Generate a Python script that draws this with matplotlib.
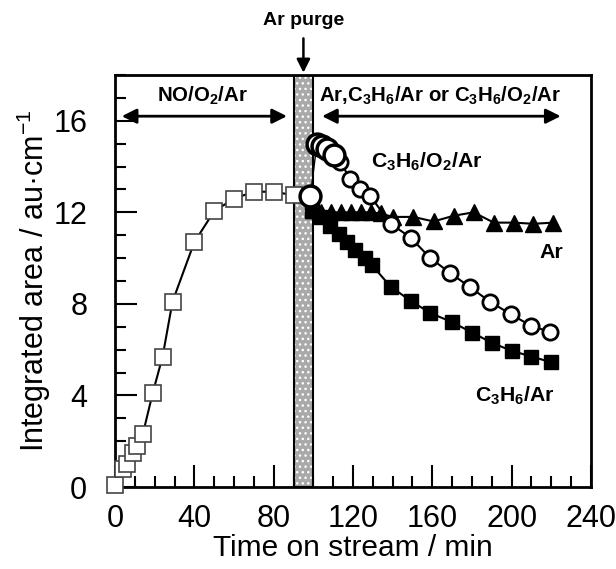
import matplotlib
matplotlib.use("Agg")
import matplotlib.pyplot as plt
from matplotlib.ticker import MultipleLocator

plt.rcParams['font.family'] = ['Liberation Sans', 'DejaVu Sans']
plt.rcParams['mathtext.fontset'] = 'custom'
plt.rcParams['mathtext.rm'] = 'Liberation Sans'
plt.rcParams['mathtext.bf'] = 'Liberation Sans:bold'
plt.rcParams['mathtext.default'] = 'regular'

# NO/O2/Ar adsorption (open squares)
t_ads = [0, 4, 6, 9, 11, 14, 19, 24, 29, 40, 50, 60, 70, 80, 90]
y_ads = [0.1, 0.8, 1.0, 1.5, 1.8, 2.3, 4.1, 5.7, 8.1, 10.7, 12.05, 12.6, 12.9, 12.9, 12.75]

# C3H6/O2/Ar (open circles), first ones drawn larger
t_o2_big = [98.5, 101.8, 104.4, 106.9, 110.2]
y_o2_big = [12.7, 15.0, 14.9, 14.75, 14.5]
t_o2 = [113.6, 118.7, 123.7, 128.8, 139, 149, 159, 169, 179, 189, 199.5, 209.6, 219.5]
y_o2 = [14.2, 13.45, 13.0, 12.7, 11.5, 10.9, 10.0, 9.35, 8.73, 8.1, 7.55, 7.05, 6.77]

# Ar (filled triangles)
t_ar = [100, 104, 109, 114, 119, 124, 129, 134, 140, 150.5, 160.6, 170.7, 180.8, 191, 201, 211, 221]
y_ar = [12.1, 12.0, 12.0, 12.0, 12.0, 12.0, 12.0, 11.95, 11.8, 11.8, 11.6, 11.85, 12.0, 11.55, 11.55, 11.5, 11.55]

# C3H6/Ar (filled squares)
t_c3 = [99.3, 104, 108.6, 113, 117, 121, 126, 129.5, 139, 149, 159, 170, 180, 190, 200, 210, 220]
y_c3 = [12.07, 11.8, 11.4, 11.05, 10.7, 10.35, 10.0, 9.7, 8.75, 8.14, 7.6, 7.2, 6.75, 6.3, 5.95, 5.7, 5.45]

fig = plt.figure(figsize=(6.16, 5.69), dpi=100)
ax = fig.add_axes([0.1867, 0.1441, 0.7727, 0.7241])

# Ar purge band
ax.axvspan(90, 100, facecolor='#a9a9a9', edgecolor='white', hatch='...', lw=0, zorder=1)
ax.axvspan(90, 100, fill=False, edgecolor='k', lw=1.5, zorder=1.5)

ax.plot(t_ads, y_ads, '-', color='k', lw=1.5, marker='s', ms=11.5, mfc='white',
        mec='#444444', mew=1.2, zorder=3, clip_on=False)

ax.plot(t_ar, y_ar, '-', color='k', lw=1.5, marker='^', ms=11.5, mfc='k', mec='k', zorder=3)
ax.plot(t_c3, y_c3, '-', color='k', lw=1.5, marker='s', ms=10.5, mfc='k', mec='k', zorder=3)
ax.plot(t_o2_big + t_o2[:1], y_o2_big + y_o2[:1], '-', color='k', lw=1, zorder=3)
ax.plot(t_o2, y_o2, '-', color='k', lw=1.5, marker='o', ms=11, mfc='white', mec='k',
        mew=2, zorder=4)
ax.plot(t_o2_big, y_o2_big, 'o', ms=15, mfc='white', mec='k', mew=2.5, zorder=5)

ax.set_xlim(0, 240)
ax.set_ylim(0, 18)
ax.xaxis.set_major_locator(MultipleLocator(40))
ax.xaxis.set_minor_locator(MultipleLocator(10))
ax.yaxis.set_major_locator(MultipleLocator(4))
ax.yaxis.set_minor_locator(MultipleLocator(1))
ax.tick_params(which='both', direction='in', top=False, right=False, width=1.5,
               labelsize=22)
ax.tick_params(which='major', length=16)
ax.tick_params(which='minor', length=8)
ax.tick_params(axis='y', pad=20)
ax.tick_params(axis='x', pad=12)
for s in ax.spines.values():
    s.set_linewidth(2)

ax.set_xlabel('Time on stream / min', fontsize=21.5, labelpad=0)
ax.set_ylabel('Integrated area / au·cm$^{-1}$', fontsize=22, labelpad=0)

# annotations
arr = dict(arrowstyle='<|-|>', lw=2, color='k', mutation_scale=22, shrinkA=0, shrinkB=0)
ax.annotate('', xy=(3.4, 16.2), xytext=(86.7, 16.2), arrowprops=arr)
ax.annotate('', xy=(104.4, 16.2), xytext=(224.7, 16.2), arrowprops=arr)
ax.text(44, 17.1, r'NO/O$_\mathbf{2}$/Ar', fontsize=14.7, fontweight='bold', ha='center', va='center')
ax.text(164, 17.1, r'Ar,C$_\mathbf{3}$H$_\mathbf{6}$/Ar or C$_\mathbf{3}$H$_\mathbf{6}$/O$_\mathbf{2}$/Ar',
        fontsize=14.7, fontweight='bold', ha='center', va='center')
ax.text(157, 14.2, r'C$_\mathbf{3}$H$_\mathbf{6}$/O$_\mathbf{2}$/Ar', fontsize=15.3,
        fontweight='bold', ha='center', va='center')
ax.text(220, 10.25, 'Ar', fontsize=15.3, fontweight='bold', ha='center', va='center')
ax.text(201.5, 4.0, r'C$_\mathbf{3}$H$_\mathbf{6}$/Ar', fontsize=15.3, fontweight='bold',
        ha='center', va='center')

ax.annotate('', xy=(95, 18.1), xytext=(95, 19.6), annotation_clip=False,
            arrowprops=dict(arrowstyle='-|>', lw=1.8, color='k', mutation_scale=20,
                            shrinkA=0, shrinkB=0))
ax.text(95, 20.4, 'Ar purge', fontsize=14, fontweight='bold', ha='center', va='center',
        clip_on=False)

fig.savefig('out.png', dpi=100)
